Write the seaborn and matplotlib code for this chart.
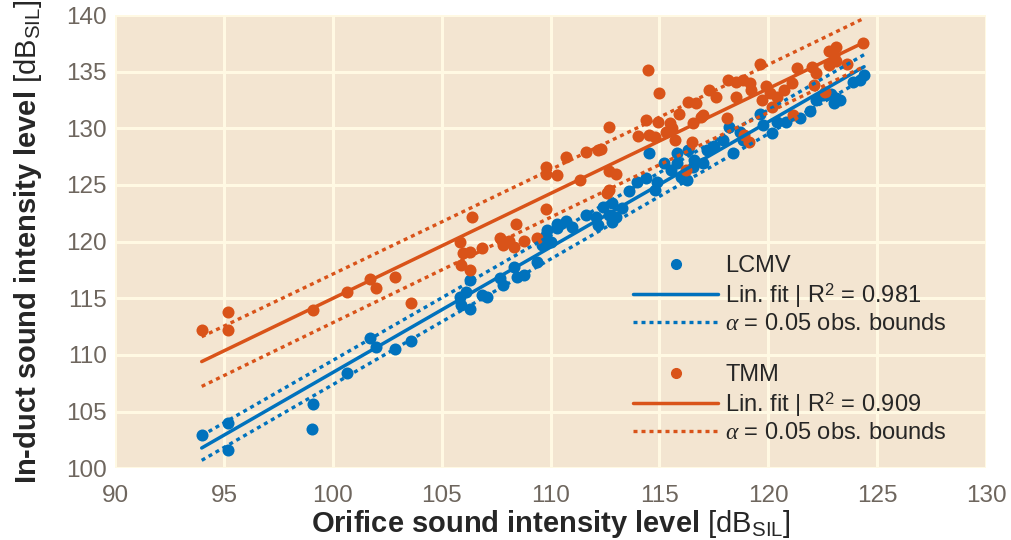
import numpy as np
import matplotlib
matplotlib.use('Agg')
import matplotlib.pyplot as plt
import seaborn as sns
from matplotlib.lines import Line2D

# Data
lcmv_x = [93.98, 95.2, 95.2, 99.1, 99.06, 100.64, 101.7, 102.0, 102.85, 103.6,
          105.84, 105.9, 106.1, 106.3, 106.3, 106.84, 107.07, 107.68, 107.83, 108.3,
          108.44, 108.8, 109.4, 109.6, 109.8, 109.85, 110.0, 110.3, 110.3, 110.7,
          111.0, 111.65, 112.1, 112.2, 112.4, 112.7, 112.8, 113.0, 112.8, 113.3,
          113.6, 113.95, 114.4, 114.9, 114.8, 114.5, 115.2, 115.55, 115.8, 115.8,
          116.0, 116.25, 116.3, 116.6, 117.0, 117.2, 117.5, 116.55, 117.9, 118.2,
          118.7, 118.4, 118.85, 119.6, 119.75, 120.15, 120.4, 120.8, 121.45, 121.9,
          122.2, 122.5, 123.0, 123.3, 122.9, 123.1, 123.9, 124.2, 124.4]
lcmv_y = [102.93, 103.96, 101.6, 105.7, 103.5, 108.4, 111.5, 110.7, 110.5, 111.25,
          115.1, 114.4, 115.6, 116.6, 114.1, 115.3, 115.1, 116.8, 116.2, 117.8,
          116.9, 117.05, 118.2, 119.7, 120.6, 121.0, 120.0, 121.2, 121.6, 121.8,
          121.3, 122.35, 122.2, 121.5, 123.1, 122.35, 121.75, 122.2, 123.4, 123.0,
          124.5, 125.3, 125.6, 125.3, 124.55, 127.8, 126.9, 126.3, 126.9, 127.8,
          125.7, 125.4, 128.1, 127.2, 126.9, 128.1, 128.4, 126.6, 129.0, 130.1,
          129.7, 127.8, 129.0, 131.3, 130.3, 129.55, 130.6, 130.6, 130.9, 131.5,
          132.5, 132.9, 132.2, 132.5, 133.0, 132.65, 134.1, 134.3, 134.7]

tmm_x = [93.98, 95.2, 95.2, 99.1, 100.64, 101.7, 102.0, 102.85, 103.6, 105.84,
         106.0, 106.3, 105.9, 106.3, 106.38, 106.84, 107.68, 107.8, 108.1, 108.3,
         108.4, 108.8, 109.4, 109.8, 109.8, 110.3, 109.8, 110.7, 111.35, 111.65,
         112.2, 112.3, 112.7, 112.7, 113.0, 112.7, 112.6, 114.0, 114.4, 114.5,
         114.47, 114.95, 115.0, 114.8, 115.3, 115.5, 115.6, 115.7, 115.9, 116.2,
         116.55, 117.0, 116.3, 116.7, 117.3, 117.6, 118.15, 118.5, 118.85, 119.15,
         119.2, 119.6, 119.9, 120.1, 120.4, 120.7, 121.1, 116.9, 118.1, 118.5,
         119.7, 120.15, 121.15, 118.9, 119.1, 116.5, 122.1, 122.2, 122.6, 122.8,
         123.1, 124.36, 123.1, 123.0, 122.8, 122.0, 121.3, 123.6]
tmm_y = [112.2, 113.8, 112.2, 114.0, 115.6, 116.7, 115.9, 116.9, 114.6, 120.0,
         119.0, 119.1, 117.9, 117.5, 122.2, 119.4, 120.3, 119.7, 120.1, 119.55,
         121.6, 120.1, 120.3, 122.9, 126.0, 125.9, 126.6, 127.5, 125.4, 127.9,
         128.1, 128.2, 130.15, 126.2, 126.0, 124.55, 124.3, 129.3, 130.7, 129.4,
         135.15, 130.6, 133.1, 129.2, 129.7, 130.45, 130.0, 129.0, 131.3, 126.3,
         130.45, 131.2, 132.3, 132.2, 133.4, 132.8, 134.3, 134.1, 134.3, 134.0,
         133.4, 135.7, 133.7, 133.1, 132.8, 133.4, 134.0, 131.0, 130.9, 132.8,
         132.5, 131.9, 131.2, 129.4, 128.8, 128.8, 133.8, 134.85, 133.2, 135.6,
         135.9, 137.5, 137.2, 136.5, 136.8, 135.4, 135.3, 135.7]

series = ['LCMV', 'TMM']
r2_labels = ['Lin. fit | R$^{\\rm 2}$ = 0.981', 'Lin. fit | R$^{\\rm 2}$ = 0.909']
bound_halfwidth = [1.05, 2.1]
colors = ['#0072BD', '#D95319']

sns.set_style('white', rc={'axes.facecolor': '#F3E5D1', 'grid.color': '#FFF9E3'})
plt.rcParams['font.family'] = ['Liberation Sans', 'DejaVu Sans']
plt.rcParams['mathtext.fontset'] = 'custom'
plt.rcParams['mathtext.rm'] = 'Liberation Sans'
plt.rcParams['mathtext.it'] = 'Liberation Serif:italic'
plt.rcParams['mathtext.bf'] = 'Liberation Sans:bold'

fig = plt.figure(figsize=(10.11, 5.40), dpi=100)
ax = fig.add_axes([0.1138, 0.1328, 0.8615, 0.8394])


def fit_with_bounds(x, y, hw):
    # least squares line, bounds widen away from the mean like prediction bounds
    x = np.asarray(x)
    y = np.asarray(y)
    n = len(x)
    b, a = np.polyfit(x, y, 1)
    xs = np.linspace(x.min(), x.max(), 100)
    sxx = np.sum((x - x.mean()) ** 2)
    half = hw * np.sqrt(1 + 1 / n + (xs - x.mean()) ** 2 / sxx) / np.sqrt(1 + 1 / n)
    yfit = a + b * xs
    return xs, yfit, yfit - half, yfit + half


dots = (0, (1.2, 1.2))
handles = []
labels = []
for i, (xd, yd) in enumerate([(lcmv_x, lcmv_y), (tmm_x, tmm_y)]):
    c = colors[i]
    sns.scatterplot(x=xd, y=yd, color=c, s=75, linewidth=0, ax=ax, zorder=3)
    xs, yfit, lo, hi = fit_with_bounds(xd, yd, bound_halfwidth[i])
    sns.lineplot(x=xs, y=yfit, color=c, linewidth=2.5, ax=ax, zorder=4)
    ax.plot(xs, lo, color=c, linewidth=2.4, linestyle=dots, zorder=4)
    ax.plot(xs, hi, color=c, linewidth=2.4, linestyle=dots, zorder=4)
    if i == 1:
        handles.append(Line2D([], [], linestyle='none'))
        labels.append(' ')
    handles.append(Line2D([], [], marker='o', color=c, linestyle='none', markersize=7))
    labels.append(series[i])
    handles.append(Line2D([], [], color=c, linewidth=2.5))
    labels.append(r2_labels[i])
    handles.append(Line2D([], [], color=c, linewidth=2.4, linestyle=dots))
    labels.append(r'$\alpha$ = 0.05 obs. bounds')

ax.set_xlim(90, 130)
ax.set_ylim(100, 140)
ax.set_xticks(np.arange(90, 131, 5))
ax.set_yticks(np.arange(100, 141, 5))
ax.grid(True, linewidth=2.2)
ax.set_axisbelow(True)
for sp in ax.spines.values():
    sp.set_visible(False)
ax.tick_params(axis='both', length=0, labelsize=17.5, labelcolor='#6E665E')
ax.tick_params(axis='x', pad=12)
ax.tick_params(axis='y', pad=6)

ax.set_xlabel('Orifice sound intensity level $\\rm[dB_{SIL}]$', fontsize=21,
              fontweight='bold', labelpad=1)
ax.set_ylabel('In-duct sound intensity level $\\rm[dB_{SIL}]$', fontsize=21,
              fontweight='bold', labelpad=16)

ax.legend(handles, labels, loc='upper left', bbox_to_anchor=(0.5947, 0.47),
          frameon=False, fontsize=17, handlelength=3.6, handletextpad=0.3,
          labelspacing=0.15, borderpad=0, borderaxespad=0)

fig.savefig('out.png', dpi=100)
